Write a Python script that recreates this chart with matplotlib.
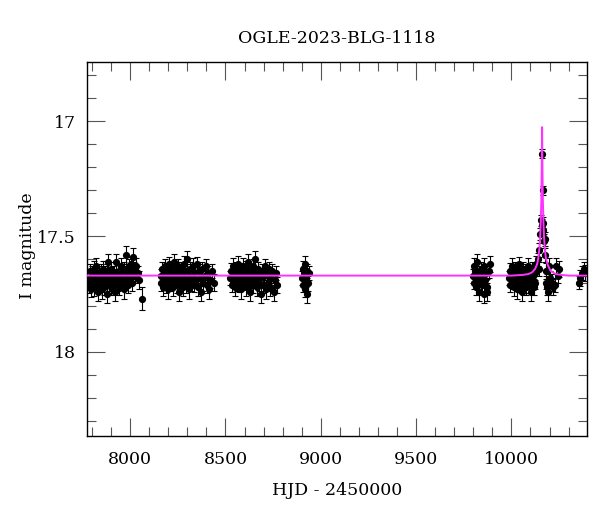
import numpy as np
import matplotlib
matplotlib.use("Agg")
import matplotlib.pyplot as plt
from matplotlib.ticker import MultipleLocator

plt.rcParams['font.family'] = ['DejaVu Serif']

title = "OGLE-2023-BLG-1118"
xlabel = "HJD - 2450000"
ylabel = "I magnitude"

# ---- season 1 ----
s1_t = [7782, 7786, 7790, 7793, 7797, 7801, 7805, 7808, 7812, 7816,
        7820, 7823, 7827, 7831, 7835, 7838, 7842, 7846, 7850, 7853,
        7857, 7861, 7865, 7868, 7872, 7876, 7880, 7885, 7889, 7893,
        7897, 7901, 7905, 7909, 7913, 7918, 7922, 7927, 7931, 7935,
        7940, 7944, 7948, 7952, 7957, 7961, 7966, 7970, 7975, 7979,
        7983, 7988, 7992, 7997, 8002, 8006, 8010, 8014, 8020, 8026,
        8033, 8040, 8047, 8061]
s1_m = [17.68, 17.71, 17.65, 17.69, 17.73, 17.66, 17.70, 17.64, 17.72, 17.67,
        17.69, 17.63, 17.71, 17.74, 17.66, 17.68, 17.70, 17.65, 17.73, 17.67,
        17.64, 17.70, 17.72, 17.66, 17.69, 17.75, 17.65, 17.61, 17.70, 17.67,
        17.72, 17.64, 17.68, 17.71, 17.66, 17.74, 17.69, 17.61, 17.67, 17.70,
        17.65, 17.72, 17.68, 17.63, 17.70, 17.66, 17.73, 17.64, 17.69, 17.58,
        17.66, 17.71, 17.63, 17.68, 17.65, 17.62, 17.70, 17.59, 17.64, 17.67,
        17.63, 17.66, 17.69, 17.77]
s1_e = [0.030, 0.035, 0.030, 0.040, 0.035, 0.030, 0.030, 0.035, 0.040, 0.030,
        0.030, 0.035, 0.030, 0.040, 0.030, 0.035, 0.030, 0.030, 0.040, 0.035,
        0.035, 0.030, 0.035, 0.030, 0.030, 0.040, 0.030, 0.035, 0.035, 0.030,
        0.035, 0.030, 0.030, 0.035, 0.030, 0.040, 0.030, 0.035, 0.030, 0.035,
        0.030, 0.035, 0.030, 0.035, 0.030, 0.030, 0.040, 0.030, 0.030, 0.040,
        0.030, 0.035, 0.030, 0.030, 0.035, 0.030, 0.035, 0.040, 0.030, 0.030,
        0.035, 0.030, 0.040, 0.050]

# ---- season 2 ----
s2_t = [8160, 8164, 8168, 8172, 8176, 8180, 8184, 8188, 8192, 8196,
        8200, 8204, 8208, 8212, 8216, 8220, 8224, 8228, 8232, 8236,
        8240, 8244, 8248, 8252, 8256, 8260, 8264, 8268, 8272, 8276,
        8280, 8284, 8288, 8292, 8296, 8300, 8305, 8310, 8315, 8320,
        8325, 8330, 8335, 8340, 8345, 8350, 8355, 8360, 8366, 8372,
        8378, 8384, 8390, 8396, 8402, 8408, 8414, 8420, 8428, 8438]
s2_m = [17.67, 17.70, 17.64, 17.72, 17.66, 17.69, 17.63, 17.71, 17.68, 17.65,
        17.73, 17.62, 17.69, 17.66, 17.70, 17.64, 17.72, 17.67, 17.61, 17.69,
        17.65, 17.71, 17.68, 17.63, 17.74, 17.66, 17.70, 17.64, 17.68, 17.72,
        17.62, 17.69, 17.66, 17.71, 17.65, 17.60, 17.68, 17.73, 17.64, 17.70,
        17.67, 17.63, 17.71, 17.66, 17.69, 17.62, 17.72, 17.65, 17.68, 17.74,
        17.64, 17.70, 17.67, 17.63, 17.71, 17.66, 17.73, 17.69, 17.65, 17.70]
s2_e = [0.030, 0.035, 0.030, 0.040, 0.030, 0.035, 0.030, 0.035, 0.030, 0.030,
        0.040, 0.030, 0.035, 0.030, 0.035, 0.030, 0.040, 0.030, 0.035, 0.030,
        0.030, 0.035, 0.030, 0.030, 0.040, 0.030, 0.035, 0.030, 0.030, 0.040,
        0.035, 0.030, 0.030, 0.035, 0.030, 0.035, 0.030, 0.040, 0.030, 0.035,
        0.030, 0.035, 0.030, 0.030, 0.035, 0.030, 0.040, 0.030, 0.035, 0.040,
        0.030, 0.035, 0.030, 0.030, 0.035, 0.030, 0.040, 0.035, 0.030, 0.035]

# ---- season 3 ----
s3_t = [8526, 8530, 8534, 8538, 8542, 8546, 8550, 8554, 8558, 8562,
        8566, 8570, 8574, 8578, 8582, 8586, 8590, 8594, 8598, 8602,
        8606, 8610, 8614, 8618, 8622, 8626, 8630, 8634, 8638, 8642,
        8646, 8650, 8654, 8658, 8662, 8666, 8670, 8675, 8680, 8685,
        8690, 8695, 8700, 8705, 8710, 8716, 8722, 8728, 8734, 8740,
        8746, 8752, 8758, 8764, 8770]
s3_m = [17.68, 17.65, 17.71, 17.63, 17.69, 17.66, 17.72, 17.64, 17.70, 17.67,
        17.62, 17.71, 17.68, 17.65, 17.73, 17.66, 17.69, 17.63, 17.70, 17.67,
        17.64, 17.72, 17.68, 17.61, 17.70, 17.66, 17.74, 17.65, 17.69, 17.63,
        17.71, 17.67, 17.60, 17.69, 17.66, 17.72, 17.64, 17.70, 17.68, 17.75,
        17.65, 17.71, 17.67, 17.63, 17.73, 17.66, 17.70, 17.64, 17.72, 17.68,
        17.65, 17.74, 17.69, 17.66, 17.71]
s3_e = [0.030, 0.035, 0.030, 0.035, 0.030, 0.030, 0.040, 0.030, 0.035, 0.030,
        0.035, 0.030, 0.030, 0.035, 0.040, 0.030, 0.030, 0.035, 0.030, 0.030,
        0.035, 0.040, 0.030, 0.035, 0.030, 0.030, 0.040, 0.030, 0.035, 0.030,
        0.035, 0.030, 0.035, 0.030, 0.030, 0.040, 0.030, 0.035, 0.030, 0.040,
        0.030, 0.035, 0.030, 0.030, 0.040, 0.030, 0.035, 0.030, 0.040, 0.030,
        0.030, 0.040, 0.035, 0.030, 0.035]

# ---- season 4 ----
s4_t = [8903, 8906, 8909, 8912, 8915, 8918, 8921, 8924, 8927, 8930, 8934, 8940]
s4_m = [17.68, 17.64, 17.71, 17.66, 17.73, 17.62, 17.69, 17.67, 17.75, 17.65, 17.70, 17.66]
s4_e = [0.030, 0.035, 0.030, 0.030, 0.035, 0.035, 0.030, 0.030, 0.040, 0.030, 0.035, 0.030]

# ---- season 5 ----
s5_t = [9798, 9802, 9806, 9810, 9814, 9818, 9822, 9826, 9830, 9834, 9838,
        9842, 9846, 9850, 9854, 9858, 9862, 9866, 9870, 9874, 9880, 9886]
s5_m = [17.67, 17.63, 17.70, 17.65, 17.72, 17.68, 17.61, 17.69, 17.74, 17.66, 17.70,
        17.64, 17.71, 17.67, 17.75, 17.63, 17.69, 17.66, 17.72, 17.74, 17.65, 17.62]
s5_e = [0.030, 0.035, 0.030, 0.030, 0.035, 0.030, 0.035, 0.030, 0.040, 0.030, 0.035,
        0.030, 0.035, 0.030, 0.040, 0.035, 0.030, 0.030, 0.035, 0.040, 0.030, 0.035]

# ---- season 6 (baseline + event) ----
s6_t = [9986, 9990, 9994, 9998, 10002, 10006, 10010, 10014, 10018, 10022,
        10026, 10030, 10034, 10038, 10042, 10046, 10050, 10054, 10058, 10062,
        10066, 10070, 10074, 10078, 10082, 10086, 10090, 10094, 10098, 10102,
        10106, 10110, 10114, 10118, 10122, 10126,
        10131, 10138, 10143, 10147, 10152, 10156, 10158, 10161, 10164, 10166,
        10168, 10170, 10174, 10177, 10180, 10184, 10187, 10194, 10199, 10205,
        10212, 10219, 10227, 10236, 10244, 10250]
s6_m = [17.68, 17.65, 17.71, 17.67, 17.63, 17.70, 17.66, 17.72, 17.64, 17.69,
        17.67, 17.73, 17.65, 17.70, 17.62, 17.68, 17.71, 17.66, 17.74, 17.64,
        17.69, 17.67, 17.72, 17.65, 17.70, 17.63, 17.68, 17.71, 17.66, 17.74,
        17.64, 17.69, 17.67, 17.72, 17.70, 17.66,
        17.62, 17.60, 17.64, 17.56, 17.49, 17.43, 17.45, 17.14, 17.30, 17.44,
        17.47, 17.52, 17.51, 17.58, 17.65, 17.70, 17.72, 17.74, 17.63, 17.68,
        17.70, 17.72, 17.71, 17.63, 17.67, 17.64]
s6_e = [0.030, 0.035, 0.030, 0.030, 0.035, 0.030, 0.030, 0.040, 0.030, 0.035,
        0.030, 0.040, 0.030, 0.035, 0.030, 0.030, 0.035, 0.030, 0.040, 0.030,
        0.035, 0.030, 0.035, 0.030, 0.030, 0.035, 0.030, 0.035, 0.030, 0.040,
        0.030, 0.035, 0.030, 0.035, 0.030, 0.030,
        0.035, 0.030, 0.030, 0.030, 0.025, 0.025, 0.025, 0.020, 0.020, 0.025,
        0.025, 0.030, 0.030, 0.030, 0.035, 0.030, 0.035, 0.040, 0.035, 0.030,
        0.035, 0.035, 0.030, 0.035, 0.030, 0.035]

# ---- season 7 ----
s7_t = [10352, 10361, 10372, 10379, 10386]
s7_m = [17.70, 17.68, 17.66, 17.64, 17.66]
s7_e = [0.030, 0.035, 0.030, 0.030, 0.035]

# ---- model curve ----
model_t = [7770, 10000, 10060, 10090, 10110, 10125, 10135, 10141, 10147, 10151,
           10154, 10157, 10159, 10161, 10163, 10165, 10168, 10171, 10175, 10181,
           10191, 10206, 10231, 10261, 10300, 10400]
model_m = [17.670, 17.670, 17.667, 17.663, 17.655, 17.640, 17.620, 17.595, 17.550, 17.500,
           17.440, 17.340, 17.220, 17.025, 17.220, 17.340, 17.440, 17.500, 17.550, 17.595,
           17.625, 17.650, 17.663, 17.667, 17.670, 17.670]

fig = plt.figure(figsize=(6.0, 5.12), dpi=100)
ax = fig.add_axes([0.1445, 0.1484, 0.8343, 0.7305])

seasons = [(s1_t, s1_m, s1_e), (s2_t, s2_m, s2_e), (s3_t, s3_m, s3_e),
           (s4_t, s4_m, s4_e), (s5_t, s5_m, s5_e), (s6_t, s6_m, s6_e),
           (s7_t, s7_m, s7_e)]
for t, m, e in seasons:
    ax.errorbar(t, m, yerr=e, fmt='o', color='black', markersize=4.2,
                ecolor='black', elinewidth=0.8, capsize=2.5, capthick=0.8, zorder=2)

ax.plot(model_t, model_m, color='#ff33ff', linewidth=1.4, zorder=3)

ax.set_xlim(7772, 10398)
ax.set_ylim(18.367, 16.742)

ax.xaxis.set_major_locator(MultipleLocator(500))
ax.xaxis.set_minor_locator(MultipleLocator(100))
ax.yaxis.set_major_locator(MultipleLocator(0.5))
ax.yaxis.set_minor_locator(MultipleLocator(0.1))
ax.tick_params(which='both', direction='in', top=True, right=True,
               labelsize=12.5, colors='black')
ax.tick_params(axis='x', which='both', pad=11)
ax.tick_params(axis='y', which='both', pad=8)
ax.tick_params(which='major', length=13, width=0.8, color='#555555')
ax.tick_params(which='minor', length=6.5, width=0.8, color='#555555')
ax.yaxis.set_major_formatter(matplotlib.ticker.FuncFormatter(lambda v, p: f"{v:g}"))
for sp in ax.spines.values():
    sp.set_linewidth(1.0)

ax.set_title(title, fontsize=12.5, pad=14)
ax.set_xlabel(xlabel, fontsize=12.5, labelpad=10)
ax.set_ylabel(ylabel, fontsize=12.5)
ax.yaxis.set_label_coords(-0.102, 0.51)

fig.savefig("out.png", dpi=100)
